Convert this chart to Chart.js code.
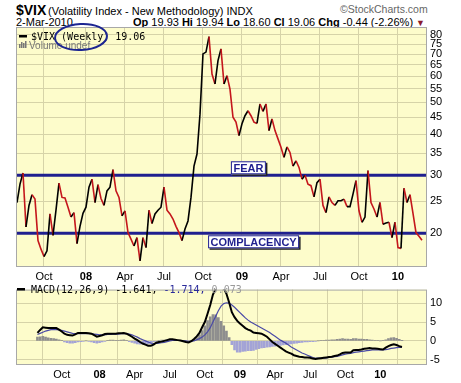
<!DOCTYPE html>
<html>
<head>
<meta charset="utf-8">
<script src="https://cdn.jsdelivr.net/npm/chart.js@4.4.0/dist/chart.umd.min.js"></script>
<style>
html, body { margin: 0; padding: 0; background: #fff; }
#wrap { position: relative; width: 461px; height: 383px; overflow: hidden; font-family: "Liberation Sans", Arial, sans-serif; }
.t { position: absolute; white-space: nowrap; color: #000; line-height: 1; }
canvas { position: absolute; left: 0; }
</style>
</head>
<body>
<div id="wrap">
  <div class="t" style="left:16px;top:3px;font-size:14px;font-weight:bold">$VIX</div>
  <div class="t" style="left:48px;top:5.7px;font-size:11px">(Volatility Index - New Methodology) INDX</div>
  <div class="t" style="left:340px;top:4px;font-size:10.5px;color:#666">©StockCharts.com</div>
  <div class="t" style="left:16px;top:16.7px;font-size:11px">2-Mar-2010</div>
  <div class="t" style="left:133px;top:16.7px;font-size:11px"><b>Op</b> 19.93 <b>Hi</b> 19.94 <b>Lo</b> 18.60 <b>Cl</b> 19.06 <b>Chg</b> -0.44 (-2.26%) <span style="color:#8b1c2c;font-size:9px">▼</span></div>
  <canvas id="vixChart" style="top:0" width="461" height="285"></canvas>
  <canvas id="macdChart" style="top:280px" width="461" height="103"></canvas>
</div>
<script>
// weekly bars, Aug 2007 .. early Mar 2010 (index = week number)
const weekTicks = [9, 23, 36, 49, 62, 75, 88, 101, 114, 127];
const weekTickLabels = ["Oct", "08", "Apr", "Jul", "Oct", "09", "Apr", "Jul", "Oct", "10"];

const vixTicks = [20, 25, 30, 35, 40, 45, 50, 55, 60, 65, 70, 75, 80];
const macdTicks = [-5, 0, 5, 10];

const zoneLevels = [30, 20];
const zoneNames = ["FEAR", "COMPLACENCY"];

const vixClose = [
  24.8, 28.2, 30.5, 20.9, 24.3, 26.2, 25.4, 19.0, 17.9, 17.0,
  17.7, 22.9, 19.7, 23.5, 28.4, 25.7, 25.6, 24.0, 22.4, 23.1,
  18.6, 21.0, 23.0, 24.0, 27.6, 29.2, 24.8, 28.1, 25.5, 24.3,
  26.9, 27.6, 31.2, 26.9, 25.7, 22.6, 23.4, 20.1, 19.2, 18.3,
  19.4, 16.5, 19.4, 18.1, 23.5, 21.4, 22.9, 23.5, 24.0, 27.6,
  23.5, 22.9, 22.1, 21.0, 20.1, 19.0, 20.6, 21.8, 25.7, 32.0,
  34.8, 46.0, 70.1, 71.0, 79.1, 60.9, 56.8, 66.9, 72.6, 56.8,
  60.2, 54.8, 45.0, 43.5, 39.6, 43.0, 45.5, 47.1, 45.5, 43.5,
  43.1, 49.4, 46.9, 49.4, 41.0, 44.5, 41.0, 38.7, 36.5, 34.0,
  36.6, 35.2, 32.0, 33.2, 31.7, 29.2, 30.0, 28.2, 27.9, 25.8,
  28.5, 29.2, 24.3, 23.1, 25.8, 24.8, 24.3, 25.1, 25.1, 25.4,
  24.1, 24.1, 26.3, 28.9, 23.4, 21.6, 22.4, 31.0, 24.8, 23.7,
  22.4, 24.8, 21.3, 21.5, 21.6, 19.4, 21.6, 18.1, 18.0, 27.4,
  24.8, 26.2, 23.0, 20.1, 19.6, 19.06
];

const macdLine = [
  2.1, 2.9, 3.6, 3.5, 3.4, 3.4, 3.4, 3.4, 3.0, 2.5,
  1.9, 1.6, 1.5, 1.4, 1.7, 2.1, 2.1, 2.1, 2.1, 2.0,
  1.9, 1.5, 1.1, 1.3, 1.5, 1.8, 1.9, 1.9, 1.9, 1.9,
  2.0, 2.0, 2.1, 1.9, 1.5, 1.1, 0.6, 0.2, -0.3, -0.7,
  -1.0, -1.3, -1.3, -1.0, -0.5, -0.3, -0.2, 0.0, 0.2, 0.4,
  0.4, 0.3, 0.2, 0.1, -0.1, -0.3, -0.4, -0.1, 0.5, 1.2,
  2.1, 3.6, 5.0, 7.2, 9.5, 12.3, 13.8, 14.6, 14.7, 14.0,
  12.5, 10.2, 7.6, 6.3, 5.3, 4.6, 4.0, 3.4, 3.0, 2.7,
  2.2, 2.1, 2.0, 1.9, 1.5, 1.1, 0.4, -0.3, -0.8, -1.3,
  -1.8, -2.3, -2.8, -3.1, -3.4, -3.8, -4.0, -4.2, -4.3, -4.4,
  -4.4, -4.5, -4.7, -4.8, -4.7, -4.6, -4.5, -4.4, -4.3, -4.2,
  -4.0, -3.9, -3.6, -3.2, -3.1, -3.1, -3.1, -2.5, -2.4, -2.4,
  -2.3, -2.1, -2.0, -1.9, -2.0, -2.0, -2.1, -2.2, -2.3, -1.8,
  -1.4, -1.1, -0.9, -1.1, -1.4, -1.641
];

const signalLine = [
  1.7, 2.0, 2.3, 2.6, 2.8, 3.0, 3.0, 3.0, 2.9, 2.8,
  2.6, 2.4, 2.2, 2.0, 1.9, 1.9, 1.9, 1.9, 1.9, 1.9,
  1.9, 1.8, 1.7, 1.6, 1.6, 1.6, 1.7, 1.7, 1.8, 1.8,
  1.8, 1.9, 1.9, 1.9, 1.8, 1.6, 1.3, 1.0, 0.6, 0.3,
  0.0, -0.3, -0.6, -0.7, -0.7, -0.6, -0.5, -0.4, -0.2, 0.0,
  0.1, 0.1, 0.1, 0.1, 0.0, 0.0, -0.1, -0.1, 0.0, 0.3,
  0.6, 1.0, 1.6, 2.4, 3.5, 5.0, 6.5, 8.0, 9.2, 9.9,
  10.1, 10.0, 9.5, 8.9, 8.2, 7.5, 6.8, 6.1, 5.5, 5.0,
  4.6, 4.2, 3.8, 3.4, 3.0, 2.6, 2.2, 1.7, 1.2, 0.7,
  0.2, -0.2, -0.6, -1.1, -1.6, -2.0, -2.4, -2.8, -3.2, -3.5,
  -3.8, -4.1, -4.4, -4.6, -4.6, -4.6, -4.6, -4.5, -4.4, -4.3,
  -4.2, -4.1, -3.9, -3.7, -3.5, -3.4, -3.3, -3.1, -3.0, -2.9,
  -2.8, -2.7, -2.6, -2.5, -2.4, -2.4, -2.4, -2.4, -2.4, -2.3,
  -2.2, -2.0, -1.9, -1.8, -1.75, -1.714
];

const macdHist = [
  1.0, 1.1, 1.2, 1.0, 0.8, 0.7, 0.6, 0.5, 0.3, 0.1,
  -0.3, -0.5, -0.6, -0.6, -0.5, -0.3, -0.2, -0.1, 0.0, -0.1,
  -0.3, -0.5, -0.6, -0.5, -0.3, -0.1, 0.1, 0.2, 0.2, 0.1,
  0.1, 0.2, 0.3, 0.1, -0.2, -0.4, -0.6, -0.8, -0.9, -0.9,
  -0.9, -0.8, -0.6, -0.3, -0.1, 0.1, 0.2, 0.2, 0.2, 0.3,
  0.3, 0.2, 0.1, 0.0, -0.1, -0.2, -0.3, -0.1, 0.4, 0.9,
  1.6, 2.7, 4.0, 5.4, 6.4, 7.0, 6.9, 6.2, 5.2, 4.0,
  2.6, 0.9, -1.0, -2.4, -3.0, -3.0, -2.8, -2.7, -2.6, -2.6,
  -2.5, -2.3, -2.1, -1.9, -1.8, -1.7, -1.6, -1.5, -1.4, -1.3,
  -1.2, -1.1, -1.0, -0.9, -0.8, -0.7, -0.6, -0.5, -0.4, -0.3,
  -0.3, -0.2, -0.2, -0.1, 0.0, 0.1, 0.1, 0.2, 0.2, 0.3,
  0.3, 0.4, 0.5, 0.6, 0.5, 0.5, 0.4, 0.6, 0.6, 0.5,
  0.5, 0.4, 0.4, 0.3, 0.2, 0.1, 0.1, 0.0, 0.1, 0.3,
  0.6, 0.8, 0.9, 0.7, 0.4, 0.073
];

const FONT = "'Liberation Sans', Arial, sans-serif";
const MONO = "'DejaVu Sans Mono', monospace";
const NAVY = "#1f1f8f";
const PLOT_BG = "#fdfccb";
const GRID = "#d6d3a8";

function xAxis() {
    return {
        type: "linear",
        min: -0.33,
        max: 136.67,
        afterBuildTicks: s => { s.ticks = weekTicks.map(v => ({ value: v })); },
        afterFit: s => { s.height = 18; },
        grid: { color: GRID, drawTicks: false },
        border: { display: false },
        ticks: {
            autoSkip: false,
            maxRotation: 0,
            padding: 3,
            color: "#000",
            font: ctx => {
                const lab = weekTickLabels[ctx.index];
                return { family: FONT, size: 11, weight: lab && lab.length === 2 ? "bold" : "normal" };
            },
            callback: (v, i) => weekTickLabels[i]
        }
    };
}

function yAxisRight(extra) {
    return Object.assign({
        position: "right",
        afterFit: s => { s.width = 34; },
        grid: { color: GRID, drawTicks: false },
        border: { display: false },
        ticks: {
            autoSkip: false,
            padding: 3,
            color: "#000",
            font: { family: FONT, size: 11 },
            callback: v => String(v)
        }
    }, extra);
}

// plot background + frame
const plotFrame = {
    id: "plotFrame",
    beforeDraw(chart) {
        const a = chart.chartArea, c = chart.ctx;
        c.save();
        c.fillStyle = PLOT_BG;
        c.fillRect(a.left, a.top, a.right - a.left, a.bottom - a.top);
        c.restore();
    },
    afterDraw(chart) {
        const a = chart.chartArea, c = chart.ctx;
        c.save();
        c.strokeStyle = "#a8a8a8";
        c.lineWidth = 1;
        c.strokeRect(a.left + 0.5, a.top + 0.5, a.right - a.left - 1, a.bottom - a.top - 1);
        c.restore();
    }
};

function drawBox(c, x, y, w, h, text) {
    c.fillStyle = "#222";
    c.fillRect(x + 1.5, y + 1.5, w, h);
    c.fillStyle = "#fff";
    c.fillRect(x, y, w, h);
    c.strokeStyle = NAVY;
    c.lineWidth = 1;
    c.strokeRect(x + 0.5, y + 0.5, w - 1, h - 1);
    c.fillStyle = NAVY;
    c.font = "bold 11px " + FONT;
    c.textAlign = "center";
    c.textBaseline = "alphabetic";
    c.fillText(text, x + w / 2, y + h - 2.5);
}

const vixDecor = {
    id: "vixDecor",
    beforeDatasetsDraw(chart) {
        const a = chart.chartArea, c = chart.ctx, y = chart.scales.y;
        c.save();
        c.strokeStyle = NAVY;
        c.lineWidth = 3;
        zoneLevels.forEach(lv => {
            const py = y.getPixelForValue(lv);
            c.beginPath();
            c.moveTo(a.left, py);
            c.lineTo(a.right, py);
            c.stroke();
        });
        c.restore();
    },
    afterDatasetsDraw(chart) {
        const c = chart.ctx, x = chart.scales.x, y = chart.scales.y;
        c.save();
        // FEAR sits above its line, COMPLACENCY below
        const fy = y.getPixelForValue(zoneLevels[0]);
        drawBox(c, x.getPixelForValue(71.3), fy - 14, 35, 13, zoneNames[0]);
        const cy = y.getPixelForValue(zoneLevels[1]);
        drawBox(c, x.getPixelForValue(63.7), cy + 2, 91, 13, zoneNames[1]);
        c.restore();
    },
    afterDraw(chart) {
        const c = chart.ctx;
        c.save();
        // legend
        c.fillStyle = "#000";
        c.fillRect(19, 35, 8, 2.5);
        c.font = "10px " + MONO;
        c.textAlign = "left";
        c.fillText("$VIX (Weekly) 19.06", 31, 40);
        c.fillStyle = "#777";
        c.fillRect(19, 44, 1.5, 4);
        c.fillRect(21, 42, 1.5, 6);
        c.fillRect(23, 43, 1.5, 5);
        c.fillRect(25, 41, 1.5, 7);
        c.font = "10px " + FONT;
        c.fillText("Volume undef", 29, 48.5);
        // hand drawn ellipse round "(Weekly)"
        c.strokeStyle = "#1c2591";
        c.lineWidth = 2;
        c.beginPath();
        c.ellipse(81, 37, 26, 13, -0.05, 0, Math.PI * 2);
        c.stroke();
        c.restore();
    }
};

new Chart(document.getElementById("vixChart"), {
    type: "line",
    data: {
        datasets: [{
            label: "$VIX",
            data: vixClose.map((v, i) => ({ x: i, y: v })),
            borderWidth: 1.6,
            pointRadius: 0,
            tension: 0,
            borderColor: "#000",
            segment: {
                borderColor: ctx => ctx.p1.parsed.y < ctx.p0.parsed.y ? "#c4161c" : "#000"
            }
        }]
    },
    options: {
        responsive: false,
        animation: false,
        layout: { padding: { left: 16, top: 27, right: 0, bottom: 0 } },
        plugins: { legend: { display: false }, tooltip: { enabled: false } },
        scales: {
            x: xAxis(),
            y: yAxisRight({
                type: "logarithmic",
                min: 15.8,
                max: 84.6,
                afterBuildTicks: s => { s.ticks = vixTicks.map(v => ({ value: v })); }
            })
        }
    },
    plugins: [plotFrame, vixDecor]
});

const macdDecor = {
    id: "macdDecor",
    afterDraw(chart) {
        const c = chart.ctx;
        c.save();
        c.fillStyle = "#000";
        c.fillRect(17, 8, 8, 2.5);
        c.font = "10px " + MONO;
        c.textAlign = "left";
        let x = 31;
        const parts = [["MACD(12,26,9) -1.641, ", "#000"], ["-1.714, ", "#2a2a9a"], ["0.073", "#9a9a9a"]];
        parts.forEach(p => {
            c.fillStyle = p[1];
            c.fillText(p[0], x, 13);
            x += c.measureText(p[0]).width;
        });
        c.restore();
    }
};

new Chart(document.getElementById("macdChart"), {
    type: "bar",
    data: {
        datasets: [
            {
                type: "line",
                label: "MACD",
                data: macdLine.map((v, i) => ({ x: i, y: v })),
                borderColor: "#000",
                borderWidth: 2,
                pointRadius: 0,
                order: 0
            },
            {
                type: "line",
                label: "Signal",
                data: signalLine.map((v, i) => ({ x: i, y: v })),
                borderColor: "#4a4aa6",
                borderWidth: 1.2,
                pointRadius: 0,
                order: 1
            },
            {
                type: "bar",
                label: "Histogram",
                data: macdHist.map((v, i) => ({ x: i, y: v })),
                backgroundColor: macdHist.map(v => v >= 0 ? "#8e8e8e" : "#a3a3d6"),
                barThickness: 2,
                order: 2
            }
        ]
    },
    options: {
        responsive: false,
        animation: false,
        layout: { padding: { left: 16, top: 6, right: 0, bottom: 0 } },
        plugins: { legend: { display: false }, tooltip: { enabled: false } },
        scales: {
            x: xAxis(),
            y: yAxisRight({
                type: "linear",
                min: -6.4,
                max: 13.6,
                afterBuildTicks: s => { s.ticks = macdTicks.map(v => ({ value: v })); }
            })
        }
    },
    plugins: [plotFrame, macdDecor]
});
</script>
</body>
</html>
